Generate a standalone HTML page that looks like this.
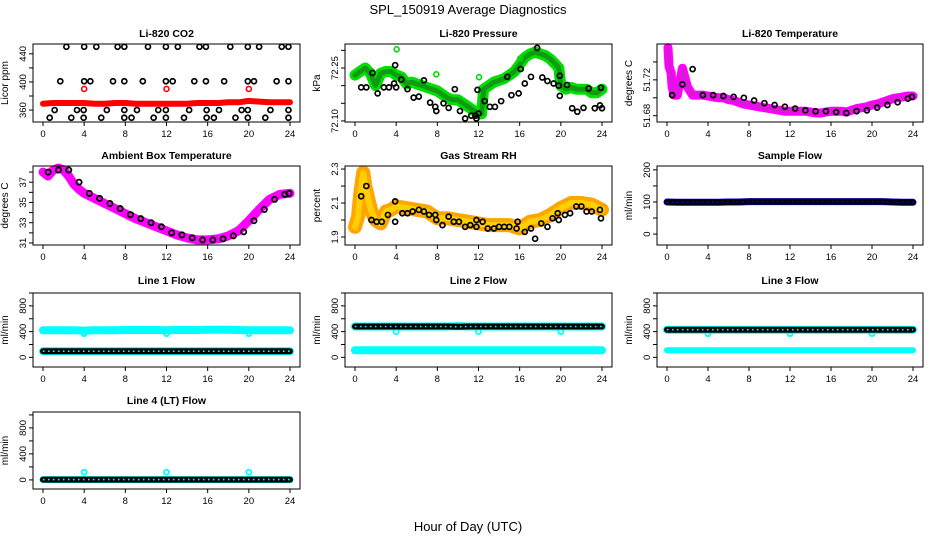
<!DOCTYPE html>
<html><head><meta charset="utf-8"><style>
html,body{margin:0;padding:0;background:#fff}
svg{display:block}
text{font-family:"Liberation Sans",sans-serif}
</style></head><body>
<svg id="chart" width="936" height="540" viewBox="0 0 936 540" xmlns="http://www.w3.org/2000/svg">
<text x="468" y="14" font-size="13" text-anchor="middle">SPL_150919  Average Diagnostics</text>
<text x="468" y="531" font-size="13" text-anchor="middle">Hour of Day (UTC)</text>
</svg>
<script>
// ---------- data ----------
const HOURS = [0,1,2,3,4,5,6,7,8,9,10,11,12,13,14,15,16,17,18,19,20,21,22,23,24];
const X_TICKS = [0,4,8,12,16,20,24];

// CO2
const co2BlackX = [2.27,4.0,5.18,7.25,7.9,10.2,11.94,13.1,15.2,15.83,18.2,19.9,21.0,23.2,23.85,
  1.68,4.0,4.6,6.8,7.9,9.7,11.94,12.6,14.7,15.83,17.6,19.9,20.5,22.7,23.85,
  1.13,3.3,3.95,6.2,7.9,9.13,11.2,11.94,14.2,15.9,17.1,19.3,19.9,22.1,23.85,
  0.65,2.75,3.95,5.66,7.9,8.6,10.75,11.94,13.7,15.9,16.6,18.7,19.9,21.6,23.85];
const co2BlackY = [450,450,450,450,450,450,450,450,450,450,450,450,450,450,450,
  401,401,401,401,401,401,401,401,401,401,401,401,401,401,401,
  360,360,360,360,360,360,360,360,360,360,360,360,360,360,360,
  349,349,349,349,349,349,349,349,349,349,349,349,349,349,349];
const co2Red = [369,370,370,370,370,369,369,370,370,369,369,369,369,369,369,370,370,370,371,371,373,372,371,371,371];
const co2RedOutX = [4,12,20];
const co2RedOutY = [390,390,390];

// Pressure
const presBandX = [0,0.5,1,1.5,2,2.5,3,3.5,4,4.5,5,5.5,6,6.5,7,7.5,8,8.5,9,9.5,10,10.5,11,11.5,12,12.3,12.5,13,13.5,14,14.5,15,15.5,16,16.5,17,17.5,18,18.5,19,19.5,19.8,20,20.5,21,21.5,22,22.5,23,23.5,24];
const presBand = [72.23,72.24,72.25,72.235,72.2,72.235,72.24,72.24,72.23,72.225,72.205,72.21,72.205,72.2,72.195,72.19,72.185,72.175,72.165,72.16,72.16,72.15,72.14,72.13,72.12,72.12,72.19,72.2,72.21,72.215,72.22,72.23,72.24,72.26,72.28,72.29,72.295,72.29,72.285,72.275,72.26,72.25,72.2,72.19,72.195,72.19,72.19,72.19,72.18,72.18,72.19];
const presOutX = [4.05,7.9,12.05,16.05];
const presOutY = [72.303,72.232,72.224,72.277];
const presBlackX = [0.6,1.1,1.7,2.2,2.8,3.3,3.8,3.9,4.0,4.5,5.1,5.7,6.2,6.7,7.3,7.8,7.9,8.6,9.1,9.7,10.2,10.7,11.3,11.7,11.8,11.9,12.0,12.6,13.1,13.6,14.2,14.8,15.2,15.9,16.1,16.5,17.1,17.7,18.2,18.7,19.3,19.8,19.9,19.9,20.6,21.1,21.6,22.2,22.7,23.3,23.8,23.9,24.0];
const presBlackY = [72.195,72.195,72.236,72.178,72.195,72.195,72.206,72.258,72.195,72.217,72.19,72.166,72.169,72.215,72.152,72.14,72.128,72.15,72.137,72.19,72.128,72.107,72.115,72.115,72.107,72.188,72.121,72.156,72.14,72.14,72.156,72.225,72.173,72.178,72.247,72.206,72.225,72.307,72.223,72.213,72.206,72.2,72.228,72.171,72.202,72.136,72.126,72.137,72.192,72.136,72.144,72.194,72.136];

// Li-820 Temperature
const tempX = [0.1,0.2,0.4,0.5,0.7,1,1.5,2,2.5,3,3.5,4,4.5,5,5.5,6,6.5,7,7.5,8,8.5,9,9.5,10,10.5,11,11.5,12,12.5,13,13.5,14,14.5,15,15.5,16,16.5,17,17.5,18,18.5,19,19.5,20,20.5,21,21.5,22,22.5,23,23.5,24];
const tempBand = [51.756,51.735,51.728,51.712,51.703,51.703,51.733,51.712,51.703,51.703,51.703,51.702,51.701,51.7,51.7,51.698,51.697,51.695,51.693,51.692,51.691,51.69,51.689,51.688,51.687,51.686,51.685,51.685,51.685,51.685,51.685,51.684,51.683,51.683,51.684,51.685,51.685,51.685,51.684,51.686,51.688,51.689,51.69,51.692,51.693,51.695,51.697,51.699,51.7,51.701,51.702,51.702];
const tempBlack = [51.703,51.715,51.732,51.703,51.703,51.702,51.701,51.700,51.697,51.694,51.692,51.690,51.688,51.686,51.685,51.685,51.684,51.683,51.685,51.686,51.689,51.692,51.695,51.699,51.701];

// Ambient box temperature
const ambX = [0,0.5,1,1.5,2,2.5,3,3.5,4,5,6,7,8,9,10,11,12,13,14,15,16,17,18,19,20,21,22,23,24];
const ambBand = [38.0,37.6,38.2,38.4,38.2,37.6,36.8,36.3,35.9,35.4,34.9,34.4,33.9,33.4,33.0,32.6,32.2,31.8,31.5,31.3,31.3,31.4,31.7,32.2,33.2,34.3,35.3,35.8,35.9];
const ambBlack = [38.0,38.2,38.2,37.0,35.9,35.4,34.9,34.4,33.8,33.4,33.0,32.6,32.0,31.8,31.5,31.3,31.3,31.4,31.7,32.1,33.2,34.3,35.3,35.8,35.9];

// Gas stream RH
const rhX = [0,0.3,0.5,0.8,1,1.3,1.6,2,2.5,3,3.5,4,5,6,7,8,9,10,11,12,13,14,15,16,17,18,19,20,21,22,23,24];
const rhBand = [1.96,2.02,2.15,2.28,2.2,2.12,2.05,2.0,1.98,2.05,2.06,2.08,2.07,2.06,2.05,2.01,2.01,2.0,1.99,1.98,1.97,1.97,1.97,1.95,1.99,2.0,2.03,2.07,2.1,2.1,2.09,2.06];
const rhBlackX = [0.6,1.1,1.6,2.1,2.6,3.2,3.9,3.9,4.6,5.1,5.6,6.2,6.7,7.2,7.8,7.9,8.5,9.1,9.6,10.1,10.7,11.2,11.8,11.8,12.4,12.9,13.5,14,14.5,15,15.7,15.8,16.5,17.1,17.5,18.1,18.7,19.2,19.7,19.8,20.4,20.9,21.5,22,22.5,23,23.8,23.9];
const rhBlackY = [2.14,2.2,2.0,1.99,1.99,2.03,2.11,1.99,2.04,2.04,2.05,2.06,2.05,2.03,2.03,2.0,1.97,2.02,1.99,1.99,1.96,1.97,2.0,1.96,1.99,1.95,1.95,1.96,1.96,1.96,1.95,1.99,1.93,1.95,1.89,1.98,1.96,2.01,2.04,2.0,2.03,2.04,2.08,2.08,2.05,2.05,2.06,2.01];

// Flows (hourly)
const sampleBlue  = [100,99,99,99,99,99,100,100,101,101,101,101,101,101,101,101,101,101,101,101,101,101,100,99,99];
const sampleBlack = [100,99,99,99,99,99,100,100,101,101,101,101,101,101,101,101,101,101,101,101,101,101,100,99,99];
const line1CyanHi = [420,420,420,420,415,420,420,420,425,425,425,425,420,425,425,425,430,430,430,425,420,420,420,420,420];
const line1CyanLo = [95,95,95,95,95,95,95,95,95,95,95,95,95,95,95,95,95,95,95,95,95,95,95,95,95];
const line1Black  = [95,95,95,95,95,95,95,95,95,95,95,95,95,95,95,95,95,95,95,95,95,95,95,95,95];
const line2CyanHi = [480,480,480,480,480,480,480,480,480,480,485,480,480,480,480,480,480,480,480,480,480,480,480,480,480];
const line2CyanLo = [110,110,110,110,110,110,110,110,110,110,110,110,110,110,110,110,110,110,110,110,110,110,110,110,110];
const line2Black  = [480,480,480,480,480,480,480,480,480,480,475,480,480,480,480,480,480,480,480,480,480,480,480,480,480];
const line3CyanHi = [430,430,430,430,430,430,430,430,430,430,430,430,430,430,430,430,430,430,430,430,430,430,430,430,430];
const line3CyanLo = [110,110,110,110,110,110,110,110,110,110,110,110,110,110,110,110,110,110,110,110,110,110,110,110,110];
const line3Black  = [430,430,430,430,430,430,430,430,430,430,430,430,430,430,430,430,430,430,430,430,430,430,430,430,430];
const line4Cyan   = [5,5,5,5,5,5,5,5,5,5,5,5,5,5,5,5,5,5,5,5,5,5,5,5,5];
const line4Black  = [5,5,5,5,5,5,5,5,5,5,5,5,5,5,5,5,5,5,5,5,5,5,5,5,5];
const flowOutX = [4,12,20];
const line1Out = [370,370,370];
const line2Out = [400,400,400];
const line3Out = [370,370,370];
const line4Out = [120,120,120];

// ---------- layout ----------
const NS = 'http://www.w3.org/2000/svg';
const svg = document.getElementById('chart');
const COLS = [{l:33,r:300,x0:43,x24:290},{l:345,r:612,x0:355,x24:602},{l:657,r:923,x0:667,x24:913}];
const ROWS = [{t:44,b:122,ty:37},{t:166,b:245,ty:159},{t:293,b:367,ty:284},{t:412,b:489,ty:404}];

function mk(tag, attrs, parent){
  const e = document.createElementNS(NS, tag);
  for (const k in attrs) e.setAttribute(k, attrs[k]);
  (parent||svg).appendChild(e);
  return e;
}

function panel(name, title, ylab, c, r, ylim, ticks, labels){
  const C = COLS[c], R = ROWS[r];
  const g = mk('g', {});
  
  
  const p = {g, C, R, ylim,
    sx: h => C.x0 + h/24*(C.x24-C.x0),
    sy: v => R.b - (v-ylim[0])/(ylim[1]-ylim[0])*(R.b-R.t)};
  const t = mk('text', {x:(C.l+C.r)/2, y:R.ty, 'font-size':10.5, 'font-weight':'bold', 'text-anchor':'middle'}, g);
  t.textContent = title;
  
  
  const xa = mk('g', {}, g);
  
  
  mk('line', {x1:p.sx(0), x2:p.sx(24), y1:R.b, y2:R.b, stroke:'#000'}, xa);
  X_TICKS.forEach(h => {
    mk('line', {x1:p.sx(h), x2:p.sx(h), y1:R.b, y2:R.b+4, stroke:'#000'}, xa);
    const lt = mk('text', {x:p.sx(h), y:R.b+15, 'font-size':9.5, 'text-anchor':'middle'}, xa);
    lt.textContent = h;
  });
  const ya = mk('g', {}, g);
  
  
  mk('line', {x1:C.l, x2:C.l, y1:p.sy(ticks[0]), y2:p.sy(ticks[ticks.length-1]), stroke:'#000'}, ya);
  ticks.forEach(v => mk('line', {x1:C.l-4, x2:C.l, y1:p.sy(v), y2:p.sy(v), stroke:'#000'}, ya));
  labels.forEach(v => {
    const yy = p.sy(v);
    const lt = mk('text', {x:C.l-7, y:yy, 'font-size':9.5, 'text-anchor':'middle', transform:`rotate(-90 ${C.l-7} ${yy})`}, ya);
    lt.textContent = v;
  });
  const yt = mk('text', {x:C.l-25, y:(R.t+R.b)/2, 'font-size':10, 'text-anchor':'middle', transform:`rotate(-90 ${C.l-25} ${(R.t+R.b)/2})`}, g);
  yt.textContent = ylab;
  
  
  const plot = mk('g', {}, g);
  p.plot = plot;
  p.finish = () => {
    const fr = mk('rect', {x:C.l, y:R.t, width:C.r-C.l, height:R.b-R.t, fill:'none', stroke:'#000'}, g);
    
    
  };
  return p;
}

function band(p, name, xs, ys, color, w){
  const pts = xs.map((h,i) => p.sx(h).toFixed(1)+','+p.sy(ys[i]).toFixed(1)).join(' ');
  const pl = mk('polyline', {points:pts, fill:'none', stroke:color, 'stroke-width':w, 'stroke-linejoin':'round', 'stroke-linecap':'round'}, p.plot);
  
  
  return pl;
}
function points(p, name, xs, ys, color, rr, sw){
  const g = mk('g', {}, p.plot);
  
  
  xs.forEach((h,i) => mk('circle', {cx:p.sx(h), cy:p.sy(ys[i]), r:rr||2.5, fill:'none', stroke:color, 'stroke-width':sw||1.7}, g));
  return g;
}
function tube(p, name, ys, inner){
  band(p, name, HOURS, ys, '#000', 6);
  const pl = mk('polyline', {points:HOURS.map((h,i)=>p.sx(h).toFixed(1)+','+p.sy(ys[i]).toFixed(1)).join(' '), fill:'none', stroke:inner, 'stroke-width':1.6, 'stroke-dasharray':'1.5 3.5'}, p.plot);
  
  
}

// ---------- panels ----------
let p;
p = panel('co2', 'Li-820 CO2', 'Licor ppm', 0, 0, [343,454], [360,380,400,420,440], [360,400,440]);
points(p, 'co2-black-points', co2BlackX, co2BlackY, '#000', 2.5, 1.7);
band(p, 'co2-red-band', HOURS, co2Red, '#ff0000', 6);
points(p, 'co2-red-outliers', co2RedOutX, co2RedOutY, '#ff0000', 2.5, 1.6);
p.finish();

p = panel('pressure', 'Li-820 Pressure', 'kPa', 1, 0, [72.097,72.318], [72.10,72.15,72.20,72.25,72.30], ['72.10','72.25']);
band(p, 'pressure-green-band', presBandX, presBand, '#00dd00', 11);
band(p, 'pressure-green-texture', presBandX, presBand, '#119911', 5).setAttribute('stroke-dasharray','1 2');
points(p, 'pressure-green-outliers', presOutX, presOutY, '#00dd00', 2.5, 1.6);
points(p, 'pressure-black-points', presBlackX, presBlackY, '#000', 2.5, 1.7);
p.finish();

p = panel('li820-temp', 'Li-820 Temperature', 'degrees C', 2, 0, [51.673,51.76], [51.68,51.70,51.72,51.74], ['51.68','51.72']);
band(p, 'li820-temp-magenta-band', tempX, tempBand, '#ff00ff', 9);
band(p, 'li820-temp-texture', tempX, tempBand, '#cc22cc', 3).setAttribute('stroke-dasharray','1 3');
points(p, 'li820-temp-black-points', HOURS.map(h=>h+0.5).slice(0,24).concat([23.9]), tempBlack, '#000', 2.5, 1.7);
p.finish();

p = panel('ambient-temp', 'Ambient Box Temperature', 'degrees C', 0, 1, [30.8,38.6], [31,32,33,34,35,36,37,38], [31,33,35,37]);
band(p, 'ambient-magenta-band', ambX, ambBand, '#ff00ff', 9);
points(p, 'ambient-black-points', HOURS.map(h=>h+0.5).slice(0,24).concat([23.9]), ambBlack, '#000', 2.6, 1.8);
p.finish();

p = panel('gas-rh', 'Gas Stream RH', 'percent', 1, 1, [1.853,2.318], [1.9,2.0,2.1,2.2,2.3], ['1.9','2.1','2.3']);
band(p, 'rh-orange-band', rhX, rhBand, '#ffa500', 14);
band(p, 'rh-yellow-band', rhX, rhBand, '#ffd000', 6).setAttribute('stroke-dasharray','2 2');
points(p, 'rh-black-points', rhBlackX, rhBlackY, '#000', 2.5, 1.7);
p.finish();

p = panel('sample-flow', 'Sample Flow', 'ml/min', 2, 1, [-34,212], [0,50,100,150,200], [0,100,200]);
band(p, 'sample-blue-band', HOURS, sampleBlue, '#0000ff', 7);
tube(p, 'sample-black-points', sampleBlack, '#0000ff');
p.finish();

p = panel('line1-flow', 'Line 1 Flow', 'ml/min', 0, 2, [-150,1000], [0,200,400,600,800,1000], [0,400,800]);
band(p, 'line1-cyan-high', HOURS, line1CyanHi, '#00ffff', 8);
band(p, 'line1-cyan-low', HOURS, line1CyanLo, '#00ffff', 8);
points(p, 'line1-cyan-outliers', flowOutX, line1Out, '#00ffff', 2.5, 1.8);
tube(p, 'line1-black-points', line1Black, '#00ffff');
p.finish();

p = panel('line2-flow', 'Line 2 Flow', 'ml/min', 1, 2, [-150,1000], [0,200,400,600,800,1000], [0,400,800]);
band(p, 'line2-cyan-high', HOURS, line2CyanHi, '#00ffff', 8);
band(p, 'line2-cyan-low', HOURS, line2CyanLo, '#00ffff', 8);
points(p, 'line2-cyan-outliers', flowOutX, line2Out, '#00ffff', 2.5, 1.8);
tube(p, 'line2-black-points', line2Black, '#00ffff');
p.finish();

p = panel('line3-flow', 'Line 3 Flow', 'ml/min', 2, 2, [-150,1000], [0,200,400,600,800,1000], [0,400,800]);
band(p, 'line3-cyan-high', HOURS, line3CyanHi, '#00ffff', 8);
band(p, 'line3-cyan-low', HOURS, line3CyanLo, '#00ffff', 6);
points(p, 'line3-cyan-outliers', flowOutX, line3Out, '#00ffff', 2.5, 1.8);
tube(p, 'line3-black-points', line3Black, '#00ffff');
p.finish();

p = panel('line4-flow', 'Line 4 (LT) Flow', 'ml/min', 0, 3, [-140,1045], [0,200,400,600,800,1000], [0,400,800]);
band(p, 'line4-cyan-band', HOURS, line4Cyan, '#00ffff', 7);
points(p, 'line4-cyan-outliers', flowOutX, line4Out, '#00ffff', 2.5, 1.8);
tube(p, 'line4-black-points', line4Black, '#00ffff');
p.finish();
</script>
</body></html>
